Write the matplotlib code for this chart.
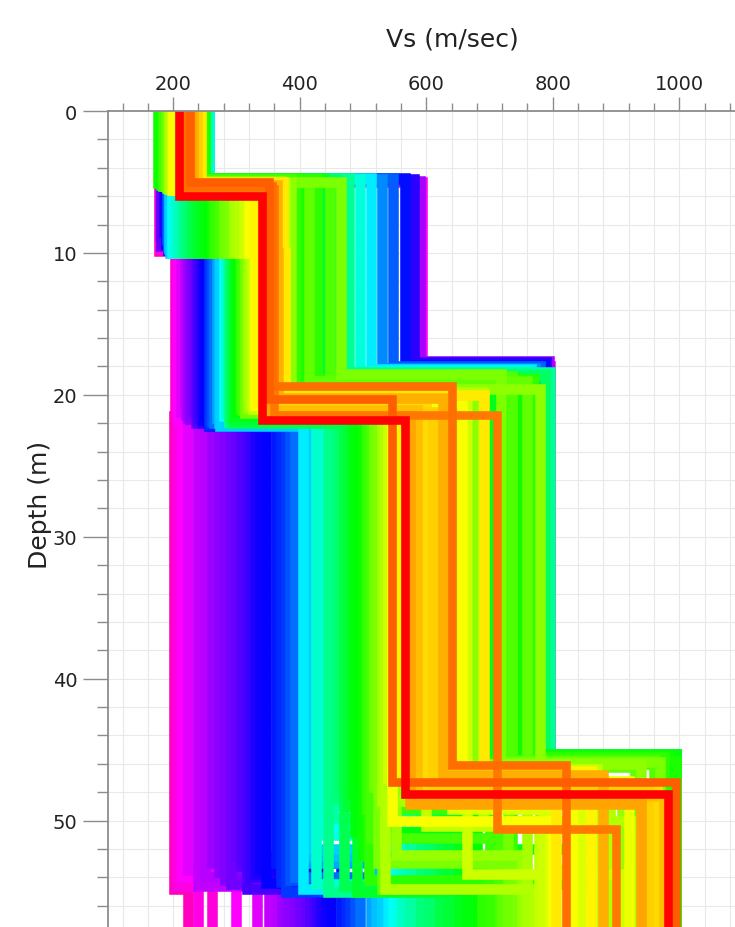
import numpy as np
import matplotlib.pyplot as plt
from matplotlib.ticker import MultipleLocator

# one entry per Vs model
# misfit is scaled 0 (best, red) .. 1 (worst, magenta)
misfit = [1.00, 0.98, 0.97, 0.96, 0.95, 0.93, 0.91, 0.90, 0.89, 0.88,
          0.87, 0.86, 0.85, 0.84, 0.83, 0.82, 0.81, 0.80, 0.79, 0.78,
          0.77, 0.76, 0.75, 0.74, 0.73, 0.71, 0.70, 0.69, 0.67, 0.65,
          0.63, 0.62, 0.60, 0.58, 0.57, 0.56, 0.54, 0.52, 0.51, 0.49,
          0.48, 0.47, 0.45, 0.44, 0.44, 0.43, 0.42, 0.41, 0.41, 0.40,
          0.39, 0.39, 0.38, 0.37, 0.36, 0.35, 0.35, 0.34, 0.33, 0.32,
          0.31, 0.31, 0.30, 0.29, 0.28, 0.27, 0.27, 0.26, 0.25, 0.24,
          0.23, 0.22, 0.22, 0.21, 0.20, 0.19, 0.18, 0.17, 0.16, 0.15,
          0.12, 0.11, 0.10, 0.03,
          0.60, 0.55, 0.50, 0.46, 0.43, 0.37, 0.33, 0.29, 0.26, 0.24,
          0.42, 0.36, 0.33, 0.30, 0.27, 0.25]
# layer velocities (m/s)
vs1 = [205, 210, 212, 250, 215, 212, 218, 219, 252, 220,
       221, 216, 223, 222, 224, 225, 222, 254, 220, 225,
       224, 255, 228, 227, 226, 229, 256, 230, 257, 228,
       230, 232, 256, 255, 256, 254, 252, 253, 250, 248,
       250, 248, 246, 248, 242, 246, 182, 245, 180, 178,
       176, 244, 250, 247, 184, 242, 186, 240, 236, 190,
       238, 192, 240, 234, 194, 236, 196, 232, 198, 230,
       240, 228, 200, 236, 244, 234, 238, 230, 232, 228,
       220, 222, 226, 209,
       255, 253, 250, 247, 245, 185, 188, 193, 197, 199,
       244, 240, 238, 236, 234, 232]
vs2 = [178, 180, 179, 594, 182, 184, 179, 183, 590, 186,
       185, 188, 187, 181, 189, 190, 191, 580, 185, 188,
       192, 566, 189, 193, 194, 190, 548, 192, 530, 194,
       193, 195, 512, 198, 203, 495, 208, 214, 478, 220,
       226, 458, 232, 238, 392, 438, 244, 418, 250, 256,
       262, 410, 398, 428, 268, 384, 274, 448, 380, 281,
       466, 288, 370, 362, 296, 354, 304, 372, 312, 344,
       360, 366, 320, 330, 374, 358, 348, 346, 364, 350,
       360, 356, 352, 341,
       200, 206, 217, 229, 241, 265, 285, 300, 316, 324,
       405, 392, 415, 386, 376, 368]
vs3 = [203, 206, 204, 594, 208, 212, 218, 221, 590, 224,
       227, 230, 233, 236, 238, 240, 243, 580, 246, 248,
       250, 566, 256, 257, 258, 261, 548, 264, 530, 270,
       272, 274, 512, 280, 283, 495, 286, 288, 478, 290,
       292, 458, 294, 296, 392, 438, 298, 418, 300, 302,
       305, 410, 398, 428, 308, 384, 311, 448, 380, 314,
       466, 317, 370, 362, 320, 354, 323, 372, 326, 344,
       368, 366, 329, 332, 376, 358, 350, 346, 366, 350,
       360, 356, 352, 341,
       281, 285, 289, 293, 297, 307, 313, 319, 325, 330,
       405, 392, 415, 386, 376, 368]
vs4 = [202, 206, 210, 796, 214, 224, 240, 251, 794, 262,
       272, 282, 291, 300, 308, 316, 323, 790, 330, 338,
       346, 786, 362, 370, 378, 385, 780, 392, 772, 408,
       414, 420, 766, 432, 439, 760, 446, 452, 796, 458,
       464, 788, 470, 476, 700, 744, 482, 726, 488, 494,
       500, 752, 660, 770, 506, 650, 512, 735, 672, 518,
       718, 524, 682, 600, 530, 580, 535, 618, 540, 636,
       592, 656, 546, 552, 692, 600, 610, 585, 626, 575,
       712, 641, 546, 567,
       405, 425, 445, 470, 490, 510, 530, 552, 600, 640,
       705, 735, 760, 780, 690, 665]
vs5 = [224, 262, 240, 990, 300, 332, 352, 362, 995, 372,
       382, 392, 401, 410, 416, 422, 428, 992, 434, 442,
       450, 995, 466, 473, 480, 488, 994, 496, 995, 512,
       521, 530, 994, 548, 555, 990, 562, 575, 995, 590,
       605, 994, 620, 635, 990, 992, 650, 995, 665, 680,
       692, 985, 994, 975, 700, 965, 715, 960, 930, 730,
       970, 745, 940, 910, 760, 890, 770, 870, 785, 845,
       920, 830, 800, 860, 805, 965, 950, 975, 880, 940,
       900, 821, 995, 982,
       540, 570, 600, 628, 660, 688, 720, 752, 778, 795,
       960, 985, 970, 990, 925, 905]
# interface depths (m)
z1 = [5.0, 4.9, 5.0, 5.0, 5.0, 5.0, 4.8, 4.9, 4.9, 5.1,
      5.0, 5.0, 5.0, 4.9, 4.9, 5.0, 5.0, 4.8, 5.0, 5.0,
      4.8, 4.7, 5.0, 5.1, 5.1, 5.0, 4.7, 5.0, 4.8, 4.9,
      5.0, 5.0, 4.7, 4.8, 4.9, 4.8, 4.9, 4.9, 4.7, 5.0,
      4.9, 4.8, 5.1, 5.0, 4.9, 4.7, 5.2, 4.8, 5.2, 5.0,
      5.1, 4.8, 4.7, 4.8, 5.3, 4.8, 5.3, 5.0, 5.1, 5.4,
      5.0, 5.4, 4.9, 5.1, 5.5, 5.2, 5.5, 5.2, 5.6, 5.3,
      5.2, 5.3, 5.6, 5.4, 5.0, 5.2, 5.3, 5.4, 5.2, 5.5,
      5.5, 5.3, 5.0, 6.0,
      4.8, 4.9, 5.0, 5.0, 5.1, 5.2, 5.3, 5.4, 5.5, 5.5,
      4.8, 4.9, 5.0, 5.0, 5.1, 5.2]
z2 = [9.9, 9.6, 9.7, 10.0, 9.4, 9.0, 8.8, 9.1, 10.0, 9.2,
      8.9, 8.6, 9.3, 9.5, 9.0, 9.0, 8.7, 10.0, 8.5, 9.4,
      9.8, 10.0, 9.2, 9.0, 8.8, 9.0, 10.0, 9.6, 10.0, 9.4,
      9.7, 10.0, 10.0, 10.0, 10.0, 10.0, 10.0, 10.0, 10.0, 10.0,
      10.0, 10.0, 10.0, 10.0, 10.0, 10.0, 10.0, 10.0, 10.0, 10.0,
      10.0, 10.0, 10.0, 10.0, 10.0, 10.0, 10.0, 10.0, 10.0, 10.0,
      10.0, 10.0, 10.0, 10.0, 10.0, 10.0, 10.0, 10.0, 10.0, 10.0,
      10.0, 10.0, 10.0, 10.0, 10.0, 10.0, 10.0, 10.0, 10.0, 10.0,
      10.0, 10.0, 10.0, 10.0,
      10.0, 10.0, 10.0, 10.0, 10.0, 10.0, 10.0, 10.0, 10.0, 10.0,
      10.0, 10.0, 10.0, 10.0, 10.0, 10.0]
z3 = [21.5, 21.0, 21.2, 18.0, 21.8, 21.2, 20.5, 21.4, 17.6, 21.6,
      21.7, 21.0, 21.2, 22.0, 21.9, 21.4, 21.6, 17.7, 22.0, 21.8,
      21.5, 17.9, 22.2, 22.1, 21.8, 21.9, 18.0, 22.0, 18.1, 21.6,
      22.0, 22.2, 18.2, 21.5, 21.3, 18.3, 21.0, 21.9, 18.4, 21.8,
      21.6, 18.6, 22.0, 21.7, 19.4, 18.8, 21.5, 19.0, 21.2, 21.0,
      21.0, 19.1, 19.2, 18.9, 20.8, 19.5, 21.1, 18.7, 19.9, 21.3,
      18.5, 20.9, 19.8, 20.4, 20.5, 20.9, 20.8, 20.1, 21.0, 21.0,
      20.8, 20.5, 20.7, 20.6, 20.0, 20.7, 21.2, 21.1, 20.2, 21.5,
      21.4, 19.4, 20.3, 21.8,
      21.4, 21.2, 21.7, 21.9, 21.6, 21.0, 21.2, 20.9, 20.6, 20.7,
      19.2, 19.4, 19.0, 19.6, 19.8, 20.0]
z4 = [54.8, 54.5, 54.6, 45.5, 54.0, 53.5, 54.6, 54.0, 45.4, 53.0,
      53.6, 54.2, 54.5, 52.5, 53.2, 54.8, 54.0, 45.5, 53.8, 53.5,
      54.4, 45.4, 53.0, 54.3, 55.0, 54.2, 45.6, 54.0, 45.4, 53.0,
      52.5, 52.0, 45.3, 50.5, 51.0, 45.5, 49.0, 49.8, 45.3, 48.5,
      47.5, 45.4, 48.0, 49.0, 45.8, 45.6, 48.2, 45.3, 50.8, 47.8,
      52.5, 45.4, 45.8, 45.5, 49.2, 46.0, 51.2, 45.7, 46.2, 47.6,
      45.9, 53.0, 46.0, 47.5, 48.6, 47.9, 54.8, 46.4, 47.0, 47.0,
      47.2, 46.6, 50.0, 46.5, 48.5, 47.8, 47.6, 48.3, 46.8, 48.8,
      50.6, 46.1, 47.3, 48.1,
      54.8, 54.5, 55.0, 54.6, 55.0, 54.2, 54.8, 52.4, 50.4, 49.2,
      52.0, 54.5, 50.5, 53.5, 50.0, 53.8]

x_ticks = [200, 400, 600, 800, 1000]
y_ticks = [0, 10, 20, 30, 40, 50]


def profile(i):
    xs = [vs1[i], vs1[i], vs2[i], vs2[i], vs3[i], vs3[i], vs4[i], vs4[i], vs5[i], vs5[i]]
    ys = [-1, z1[i], z1[i], z2[i], z2[i], z3[i], z3[i], z4[i], z4[i], 70]
    # drop zero length pieces so the miter joins stay clean
    px, py = [xs[0]], [ys[0]]
    for x, y in zip(xs[1:], ys[1:]):
        if x == px[-1] and y == py[-1]:
            continue
        if len(px) > 1 and (x == px[-1] == px[-2] or y == py[-1] == py[-2]):
            px[-1], py[-1] = x, y
            continue
        px.append(x)
        py.append(y)
    return px, py


fig = plt.figure(figsize=(7.35, 9.28), dpi=100)
ax = fig.add_axes([108/735, 0, 627/735, 816/928])

cmap = plt.get_cmap('gist_rainbow')
order = np.argsort(misfit, kind='stable')[::-1]   # worst first, best drawn on top
for i in order:
    px, py = profile(i)
    lw = 6.2 if misfit[i] <= 0.12 else 7.6
    ax.plot(px, py, color=cmap(misfit[i]), lw=lw,
            solid_joinstyle='miter', solid_capstyle='butt')

ax.set_xlim(97, 1088)
ax.set_ylim(57.5, 0)

ax.xaxis.tick_top()
ax.set_xticks(x_ticks)
ax.xaxis.set_minor_locator(MultipleLocator(40))
ax.set_yticks(y_ticks)
ax.yaxis.set_minor_locator(MultipleLocator(2))

gc = '#8c8c8c'
ax.tick_params(axis='x', which='major', length=10, width=1, color=gc,
               labelsize=14, pad=3, labelcolor='#222222')
ax.tick_params(axis='x', which='minor', length=6, width=1, color=gc)
ax.tick_params(axis='y', which='major', length=18, width=1, color=gc,
               labelsize=14, pad=4, labelcolor='#222222')
ax.tick_params(axis='y', which='minor', length=8, width=1, color=gc)

ax.grid(which='both', color='#e9e9e9', lw=0.8)
ax.set_axisbelow(True)
for s in ['right', 'bottom']:
    ax.spines[s].set_visible(False)
for s in ['top', 'left']:
    ax.spines[s].set_color(gc)
    ax.spines[s].set_linewidth(1.3)

fig.text(452/735, 1 - 40/928, 'Vs (m/sec)', fontsize=18, ha='center', va='center', color='#222222')
fig.text(40/735, 1 - 505/928, 'Depth (m)', fontsize=18, rotation=90,
         ha='center', va='center', color='#222222')

fig.savefig('out.png', dpi=100)
